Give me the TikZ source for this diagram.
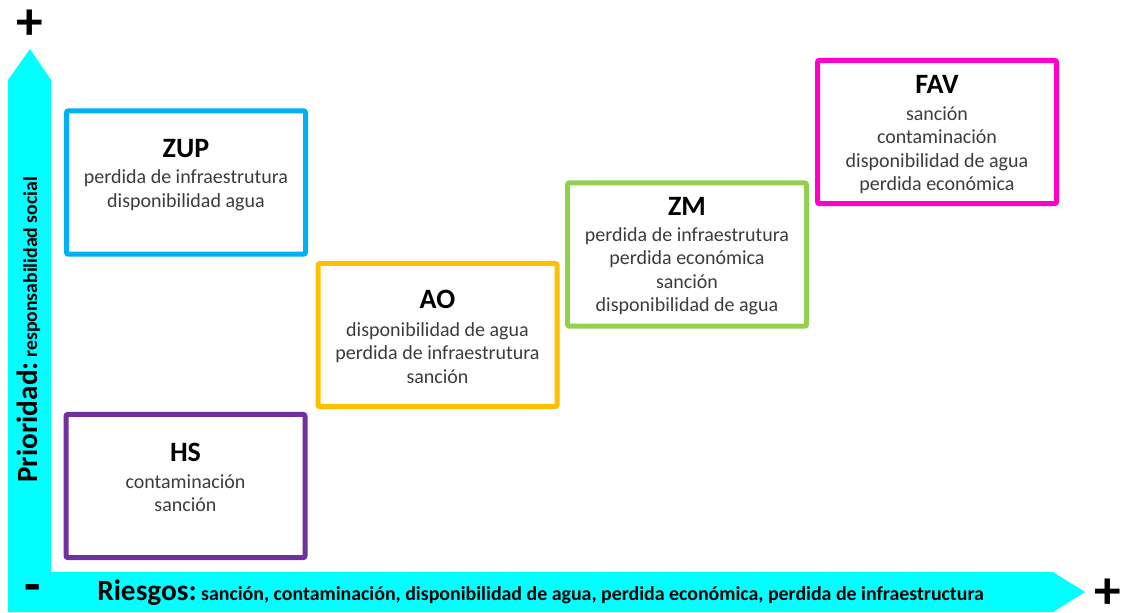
\documentclass[tikz,border=0pt]{standalone}
\usepackage{fontspec}
\setmainfont{Carlito}
\definecolor{axiscyan}{RGB}{0,255,255}
\definecolor{zupc}{RGB}{0,176,240}
\definecolor{hsc}{RGB}{112,48,160}
\definecolor{aoc}{RGB}{255,192,0}
\definecolor{zmc}{RGB}{146,208,80}
\definecolor{favc}{RGB}{255,0,204}
\definecolor{bodygray}{RGB}{60,60,60}
\newcommand\boxtitlefont{\fontsize{21}{25}\selectfont\bfseries}
\newcommand\boxbodyfont{\fontsize{15}{18}\selectfont}
\tikzset{
  riskbox/.style={draw, line width=3.75pt, rounded corners=1.5pt, fill=white,
    minimum width=179.25pt, minimum height=107.5pt, inner sep=0pt, outer sep=0pt},
  boxtitle/.style={anchor=base, inner sep=0pt, font=\boxtitlefont, text=black},
  boxbody/.style={anchor=base, inner sep=0pt, font=\boxbodyfont, text=bodygray},
  signmark/.style={inner sep=0pt, font=\fontsize{40}{40}\selectfont\bfseries, text=black},
}
\begin{document}
\begin{tikzpicture}[x=0.75pt,y=-0.75pt]
\useasboundingbox (0,0) rectangle (1123,612);
% axes (L-shaped cyan arrows)
\fill[axiscyan] (8,612) -- (8,80) -- (30,49) -- (51,80) -- (51,572) -- (1053,572) -- (1085,592) -- (1053,612) -- cycle;
% signs
\node[signmark] (plusTop) at (30,25) {+};
\node[signmark] (minusBL) at (33,593) {-};
\node[signmark] (plusBR) at (1108,594) {+};
% axis labels
\node[anchor=base west, inner sep=0pt, text=black] (xlab) at (97,600)
  {{\fontsize{22}{26}\selectfont\bfseries Riesgos:}{\fontsize{14.9}{18}\selectfont\bfseries\ sanción, contaminación, disponibilidad de agua, perdida económica, perdida de infraestructura}};
\node[rotate=90, anchor=base west, inner sep=0pt, text=black] (ylab) at (37,483)
  {{\fontsize{22}{26}\selectfont\bfseries Prioridad:}{\fontsize{14.8}{18}\selectfont\bfseries\ responsabilidad social}};
% boxes
\node[riskbox, draw=zupc] (zup) at (186,182.5) {};
\node[riskbox, draw=hsc]  (hs)  at (185.5,486) {};
\node[riskbox, draw=aoc]  (ao)  at (437.5,335) {};
\node[riskbox, draw=zmc]  (zm)  at (687,254.5) {};
\node[riskbox, draw=favc] (fav) at (937,132) {};
% ZUP
\node[boxtitle] (zupT) at (186,157) {ZUP};
\foreach \t [count=\i] in {perdida de infraestrutura, disponibilidad agua}
  \node[boxbody] (zup\i) at (186,{183.5+23.5*(\i-1)}) {\t};
% HS
\node[boxtitle] (hsT) at (185.5,461) {HS};
\foreach \t [count=\i] in {contaminación, sanción}
  \node[boxbody] (hs\i) at (185.5,{488+23.5*(\i-1)}) {\t};
% AO
\node[boxtitle] (aoT) at (437.5,308) {AO};
\foreach \t [count=\i] in {disponibilidad de agua, perdida de infraestrutura, sanción}
  \node[boxbody] (ao\i) at (437.5,{336+23.5*(\i-1)}) {\t};
% ZM
\node[boxtitle] (zmT) at (687,215) {ZM};
\foreach \t [count=\i] in {perdida de infraestrutura, perdida económica, sanción, disponibilidad de agua}
  \node[boxbody] (zm\i) at (687,{241+23.5*(\i-1)}) {\t};
% FAV
\node[boxtitle] (favT) at (937,93) {FAV};
\foreach \t [count=\i] in {sanción, contaminación, disponibilidad de agua, perdida económica}
  \node[boxbody] (fav\i) at (937,{120+23.5*(\i-1)}) {\t};
\end{tikzpicture}
\end{document}
